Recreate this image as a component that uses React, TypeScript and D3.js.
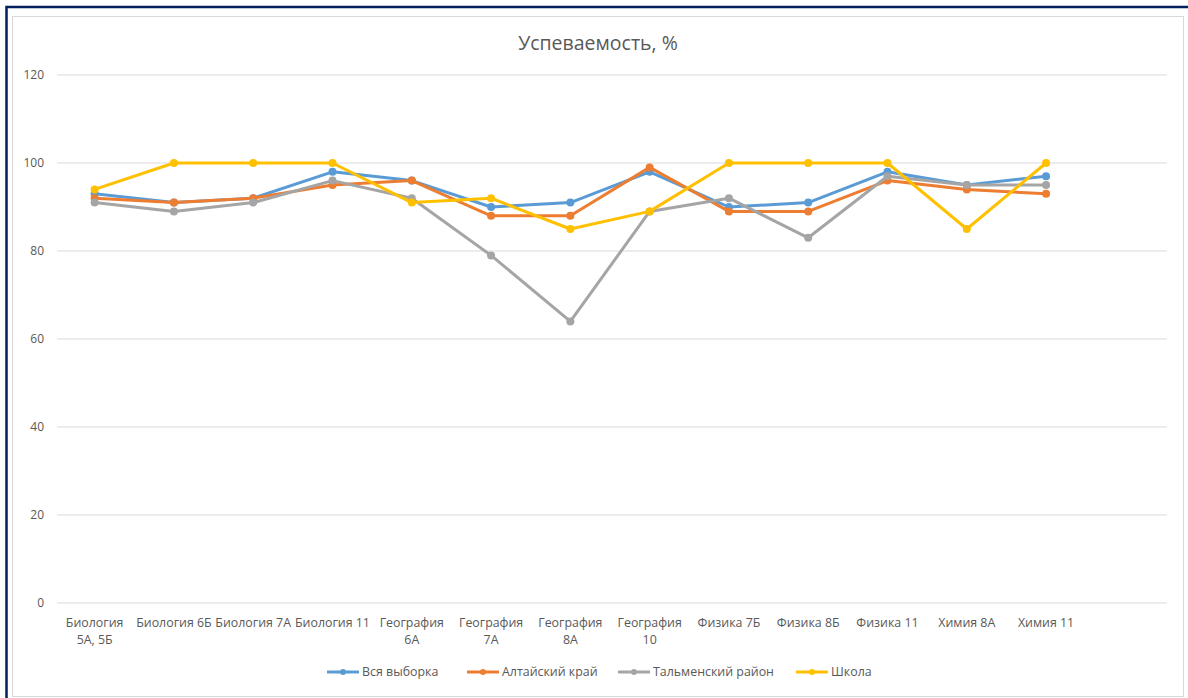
import React from "react";
import * as d3 from "d3";

const categories: string[][] = [
  ["Биология", "5А, 5Б"],
  ["Биология 6Б"],
  ["Биология 7А"],
  ["Биология 11"],
  ["География", "6А"],
  ["География", "7А"],
  ["География", "8А"],
  ["География", "10"],
  ["Физика 7Б"],
  ["Физика 8Б"],
  ["Физика 11"],
  ["Химия 8А"],
  ["Химия 11"],
  [""],
];

const seriesNames = ["Вся выборка", "Алтайский край", "Тальменский район", "Школа"];
const colors = ["#5B9BD5", "#ED7D31", "#A5A5A5", "#FFC000"];

const vsyaVyborka = [93, 91, 92, 98, 96, 90, 91, 98, 90, 91, 98, 95, 97];
const altaiKrai = [92, 91, 92, 95, 96, 88, 88, 99, 89, 89, 96, 94, 93];
const talmenskiy = [91, 89, 91, 96, 92, 79, 64, 89, 92, 83, 97, 95, 95];
const shkola = [94, 100, 100, 100, 91, 92, 85, 89, 100, 100, 100, 85, 100];

const yTicks = [0, 20, 40, 60, 80, 100, 120];

const FONT = "'Open Sans', 'Noto Sans', sans-serif";

export default function App() {
  const W = 1188;
  const H = 698;
  const plotLeft = 57;
  const plotRight = 1167;
  const x = d3
    .scaleBand<number>()
    .domain(d3.range(categories.length))
    .range([plotLeft - 2, plotRight - 2]);
  const y = d3.scaleLinear().domain([0, 120]).range([603, 75]);
  const cx = (i: number) => (x(i) as number) + x.bandwidth() / 2;

  const allSeries = [vsyaVyborka, altaiKrai, talmenskiy, shkola];
  const line = d3
    .line<number>()
    .x((_, i) => cx(i))
    .y((d) => y(d));

  const legendX = [327, 467, 618, 796];

  return (
    <svg
      width={W}
      height={H}
      style={{ position: "absolute", left: 0, top: 0, background: "#fff" }}
      fontFamily={FONT}
    >
      <rect x={0} y={0} width={W} height={H} fill="#fff" />
      <rect x={6.5} y={7} width={W + 10} height={H + 10} fill="none" stroke="#002060" strokeWidth={2.5} />
      <rect x={12.5} y={16.5} width={1171} height={680} fill="none" stroke="#D9D9D9" strokeWidth={1} />

      <text x={598} y={50} textAnchor="middle" fontSize={19.5} fill="#595959">
        Успеваемость, %
      </text>

      {yTicks.map((t) => (
        <g key={t}>
          <line x1={plotLeft} x2={plotRight} y1={y(t)} y2={y(t)} stroke="#D9D9D9" strokeWidth={1} />
          <text x={44} y={y(t) + 4} textAnchor="end" fontSize={12} fill="#595959">
            {t}
          </text>
        </g>
      ))}

      {categories.map((c, i) => (
        <text key={i} x={cx(i)} y={627} textAnchor="middle" fontSize={12.4} fill="#595959">
          {c.map((l, j) => (
            <tspan key={j} x={cx(i)} dy={j === 0 ? 0 : 17}>
              {l}
            </tspan>
          ))}
        </text>
      ))}

      {allSeries.map((s, k) => (
        <g key={k}>
          <path d={line(s) || ""} fill="none" stroke={colors[k]} strokeWidth={3} strokeLinejoin="round" strokeLinecap="round" />
          {s.map((v, i) => (
            <circle key={i} cx={cx(i)} cy={y(v)} r={4} fill={colors[k]} />
          ))}
        </g>
      ))}

      {seriesNames.map((n, k) => (
        <g key={n} transform={`translate(${legendX[k]},672)`}>
          <line x1={0} x2={32} y1={0} y2={0} stroke={colors[k]} strokeWidth={3} />
          <circle cx={16} cy={0} r={3} fill={colors[k]} />
          <text x={35} y={4.3} fontSize={12.4} fill="#595959">
            {n}
          </text>
        </g>
      ))}
    </svg>
  );
}
